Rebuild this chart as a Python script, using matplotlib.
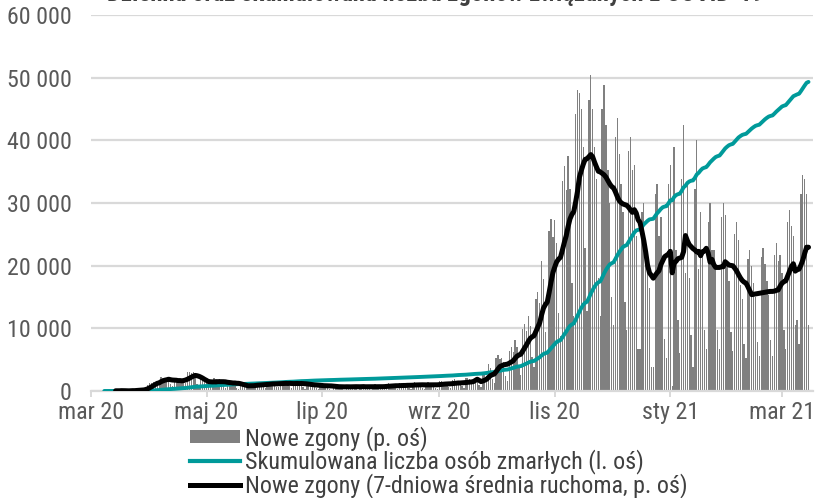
import pandas as pd
import matplotlib
matplotlib.use('Agg')
import matplotlib.pyplot as plt
from matplotlib import font_manager
from matplotlib.patches import Patch
from matplotlib.lines import Line2D

# daily new deaths, one row per week (Sun..Sat), starting 8 Mar 2020
first_day = '2020-03-08'
new_deaths = [
    0, 0, 0, 0, 1, 1, 1,
    0, 0, 2, 0, 0, 0, 0,
    2, 1, 2, 2, 1, 2, 2,
    6, 8, 12, 17, 16, 20, 19,
    22, 15, 30, 28, 27, 26, 27,
    15, 10, 28, 27, 22, 26, 23,
    20, 18, 40, 41, 38, 40, 35,
    15, 10, 27, 26, 20, 25, 17,
    12, 8, 28, 25, 24, 25, 18,
    10, 6, 22, 22, 20, 21, 18,
    6, 5, 16, 14, 12, 14, 10,
    7, 6, 16, 18, 15, 16, 13,
    8, 7, 20, 20, 18, 19, 13,
    9, 8, 22, 22, 19, 20, 12,
    10, 6, 21, 23, 20, 18, 14,
    8, 5, 18, 19, 16, 15, 10,
    6, 4, 15, 16, 13, 14, 9,
    5, 3, 12, 13, 11, 11, 8,
    4, 3, 13, 12, 11, 12, 8,
    5, 2, 13, 13, 12, 10, 8,
    4, 3, 12, 14, 11, 11, 8,
    5, 4, 15, 16, 13, 14, 10,
    6, 4, 17, 16, 15, 14, 12,
    6, 5, 18, 19, 16, 15, 12,
    7, 4, 18, 19, 16, 16, 11,
    7, 5, 21, 22, 19, 18, 13,
    8, 6, 24, 25, 22, 21, 13,
    10, 7, 28, 28, 25, 24, 18,
    28, 24, 12, 9, 34, 36, 32,
    57, 49, 26, 18, 70, 76, 68,
    70, 61, 32, 22, 86, 93, 84,
    108, 93, 49, 34, 132, 142, 128,
    160, 138, 72, 51, 196, 210, 188,
    277, 239, 126, 88, 340, 366, 328,
    363, 314, 165, 116, 446, 479, 427,
    500, 430, 230, 160, 590, 640, 635,
    600, 520, 304, 170, 620, 672, 600,
    520, 450, 240, 160, 600, 650, 565,
    470, 400, 200, 140, 540, 580, 505,
    440, 380, 190, 130, 510, 540, 470,
    480, 330, 90, 90, 380, 400, 300,
    280, 220, 50, 50, 420, 440, 330,
    370, 280, 110, 70, 440, 480, 10,
    520, 300, 150, 80, 450, 565, 250,
    445, 240, 120, 50, 430, 535, 260,
    380, 300, 130, 90, 360, 400, 300,
    300, 260, 130, 90, 370, 400, 375,
    275, 235, 125, 85, 335, 360, 321,
    225, 195, 100, 70, 280, 300, 265,
    230, 200, 105, 75, 285, 305, 270,
    235, 205, 108, 75, 290, 315, 277,
    290, 250, 130, 90, 360, 385, 350,
    330, 140, 150, 100, 420, 460, 451,
    420, 140,
]

tick_dates = ['2020-03-01', '2020-05-01', '2020-07-01', '2020-09-01',
              '2020-11-01', '2021-01-01', '2021-03-01']
tick_labels = ['mar 20', 'maj 20', 'lip 20', 'wrz 20', 'lis 20', 'sty 21', 'mar 21']
left_ticks = [0, 10000, 20000, 30000, 40000, 50000, 60000]
left_labels = ['0', '10 000', '20 000', '30 000', '40 000', '50 000', '60 000']
right_max = 800  # hidden right axis (p. oś)
legend_labels = ['Nowe zgony (p. oś)',
                 'Skumulowana liczba osób zmarłych (l. oś)',
                 'Nowe zgony (7-dniowa średnia ruchoma, p. oś)']
title = 'Dzienna oraz skumulowana liczba zgonów związanych z COVID-19'

installed = {f.name for f in font_manager.fontManager.ttflist}
narrow = [n for n in ('Liberation Sans Narrow', 'Arial Narrow', 'Roboto Condensed')
          if n in installed]
if narrow:
    plt.rcParams['font.family'] = [narrow[0], 'DejaVu Sans']
    fs, fs_title, lab_sp = 17.3, 17.8, -0.05
else:
    plt.rcParams['font.family'] = ['Liberation Sans', 'DejaVu Sans']
    fs, fs_title, lab_sp = 15.2, 15.2, 0.3

days = pd.date_range(first_day, periods=len(new_deaths), freq='D')
daily = pd.Series(new_deaths, index=days)
cumulative = daily.cumsum()
avg7 = daily.rolling(7).mean()

grey = '#808080'
teal = '#009a9a'
grid_c = '#d9d9d9'
txt = '#595959'

fig = plt.figure(figsize=(8.15, 4.98), dpi=100)
axb = fig.add_axes([0.1117, 0.2149, 0.8859, 0.755])  # bars + grid
ax = axb.twinx()   # cumulative, left scale
axk = axb.twinx()  # 7-day average
axb.set_zorder(1)
ax.set_zorder(2)
axk.set_zorder(3)
ax.patch.set_visible(False)
axk.patch.set_visible(False)

axb.bar(days, daily.values, width=0.7, color=grey, linewidth=0)
ax.plot(days, cumulative.values, color=teal, lw=2.8, solid_capstyle='round')
axk.plot(days, avg7.values, color='black', lw=3.6, solid_capstyle='round')

x0 = pd.Timestamp('2020-03-01')
axb.set_xlim(x0, x0 + pd.Timedelta(days=381.4))
axb.set_ylim(0, right_max)
axk.set_ylim(0, right_max)
ax.set_ylim(0, 60000)

axb.set_yticks([right_max * i / 6 for i in range(7)])
axb.grid(axis='y', color=grid_c, lw=1.6)
axb.set_axisbelow(True)
axb.tick_params(axis='y', left=False, right=False, labelleft=False, labelright=False)

axb.set_xticks(pd.to_datetime(tick_dates))
axb.set_xticklabels(tick_labels)
axb.tick_params(axis='x', direction='out', length=4.5, width=1.4, color=grid_c,
                labelsize=fs, labelcolor=txt, pad=3)

ax.yaxis.tick_left()
ax.set_yticks(left_ticks)
ax.set_yticklabels(left_labels)
ax.tick_params(axis='y', length=0, labelsize=fs, labelcolor=txt, pad=14,
               left=False, right=False, labelleft=True, labelright=False)
axk.tick_params(axis='y', left=False, right=False, labelleft=False, labelright=False)

for a in (axb, ax, axk):
    for sp in a.spines.values():
        sp.set_visible(False)
axb.spines['bottom'].set_visible(True)
axb.spines['bottom'].set_color(grid_c)
axb.spines['bottom'].set_linewidth(1.6)

fig.text(0.534, 0.997, title, ha='center', va='baseline', fontsize=fs_title,
         fontweight='bold', color='#404040')

handles = [Patch(facecolor=grey, edgecolor='none'),
           Line2D([], [], color=teal, lw=3.0),
           Line2D([], [], color='black', lw=3.6)]
fig.legend(handles, legend_labels, loc='upper left', bbox_to_anchor=(0.2331, 0.145),
           borderaxespad=0, borderpad=0, frameon=False, fontsize=fs,
           handlelength=2.1, handleheight=0.5, handletextpad=0.2,
           labelspacing=lab_sp, labelcolor='#404040')

fig.savefig('out.png', dpi=100)
